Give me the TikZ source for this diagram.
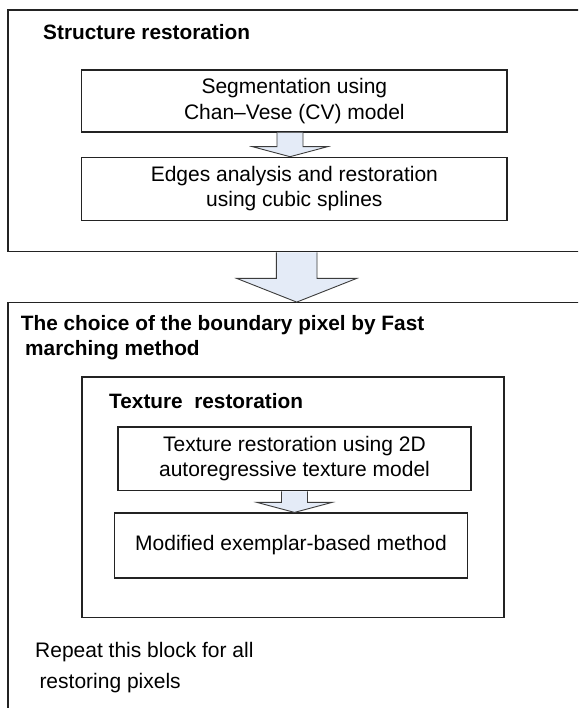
\documentclass[tikz,border=0pt]{standalone}
\usepackage{fontspec}
\setmainfont{Liberation Sans}
\usetikzlibrary{calc}
\definecolor{arrowfill}{RGB}{228,235,247}
\definecolor{linegray}{RGB}{35,35,35}
\definecolor{arrowline}{RGB}{60,60,60}
\begin{document}
\begin{tikzpicture}[x=1pt,y=-1pt,
  box/.style={draw=linegray, line width=1.2pt, rectangle, inner sep=0pt, align=center,
    font=\fontsize{21}{25.5}\selectfont},
  frame/.style={draw=linegray, line width=1.2pt, rectangle, inner sep=0pt},
  titletext/.style={inner sep=0pt, anchor=base west, font=\fontsize{20.8}{24}\selectfont\bfseries},
  bodytext/.style={inner sep=0pt, anchor=base west, font=\fontsize{21}{25}\selectfont},
  blockarrow/.style={draw=arrowline, line width=0.9pt, fill=arrowfill, line join=miter}]
\useasboundingbox (0,0) rectangle (578,708);
\clip (0,0) rectangle (578,708);
\fill[white] (0,0) rectangle (578,708);

% outer frames
\node[frame, minimum width=612pt, minimum height=241.7pt] (outerA) at (314,130.85) {};
\node[frame, minimum width=612pt, minimum height=437.3pt] (outerB) at (314,521.35) {};
\node[frame, minimum width=422pt, minimum height=240.7pt] (texbox) at (293,497.35) {};

% titles
\node[titletext] (tA) at (43,40) {Structure restoration};
\node[titletext] (tB1) at (20.7,330.7) {The choice of the boundary pixel by Fast};
\node[titletext] (tB2) at (25,355) {marching method};
\node[titletext] (tC) at (109,408.3) {Texture\ \ restoration};

% inner boxes
\node[box, minimum width=425.3pt, minimum height=62pt] (seg) at (294.35,101) {Segmentation using\\Chan–Vese (CV) model};
\node[box, minimum width=425.3pt, minimum height=63pt] (edge) at (294.35,188.8) {Edges analysis and restoration\\using cubic splines};
\node[box, minimum width=353pt, minimum height=63.7pt] (texr) at (294.5,458.85) {\raisebox{3pt}{\begin{tabular}{@{}c@{}}Texture restoration using 2D\\[-0.5pt]autoregressive texture model\end{tabular}}};
\node[box, minimum width=353.2pt, minimum height=65pt] (exem) at (291,545.5) {Modified exemplar-based method};

% repeat text
\node[bodytext] (rep1) at (35,657) {Repeat this block for all};
\node[bodytext] (rep2) at (39.3,688) {restoring pixels};

% block arrows
\path (seg.south) ++(-4.35,0) coordinate (a1top);
\path (edge.north) ++(-4.35,0) coordinate (a1tip);
\draw[blockarrow] ($(a1top)+(-13,0)$) -- ($(a1tip)+(-13,-10)$) -- ($(a1tip)+(-37.5,-10)$)
  -- (a1tip) -- ($(a1tip)+(37.5,-10)$) -- ($(a1tip)+(13,-10)$) -- ($(a1top)+(13,0)$);

\coordinate (a2x) at (296.7,0);
\path (outerA.south -| a2x) coordinate (a2t);
\path (outerB.north -| a2x) coordinate (a2tip);
\draw[blockarrow] ($(a2t)+(-20.3,0)$) -- ($(a2tip)+(-20.3,-23.7)$) -- ($(a2tip)+(-60,-23.7)$)
  -- (a2tip) -- ($(a2tip)+(60,-23.7)$) -- ($(a2tip)+(20.3,-23.7)$) -- ($(a2t)+(20.3,0)$);

\path (texr.south) coordinate (a3top);
\path (exem.north -| texr.south) coordinate (a3tip);
\draw[blockarrow] ($(a3top)+(-13,0)$) -- ($(a3tip)+(-13,-10)$) -- ($(a3tip)+(-37.5,-10)$)
  -- (a3tip) -- ($(a3tip)+(37.5,-10)$) -- ($(a3tip)+(13,-10)$) -- ($(a3top)+(13,0)$);
\end{tikzpicture}
\end{document}
